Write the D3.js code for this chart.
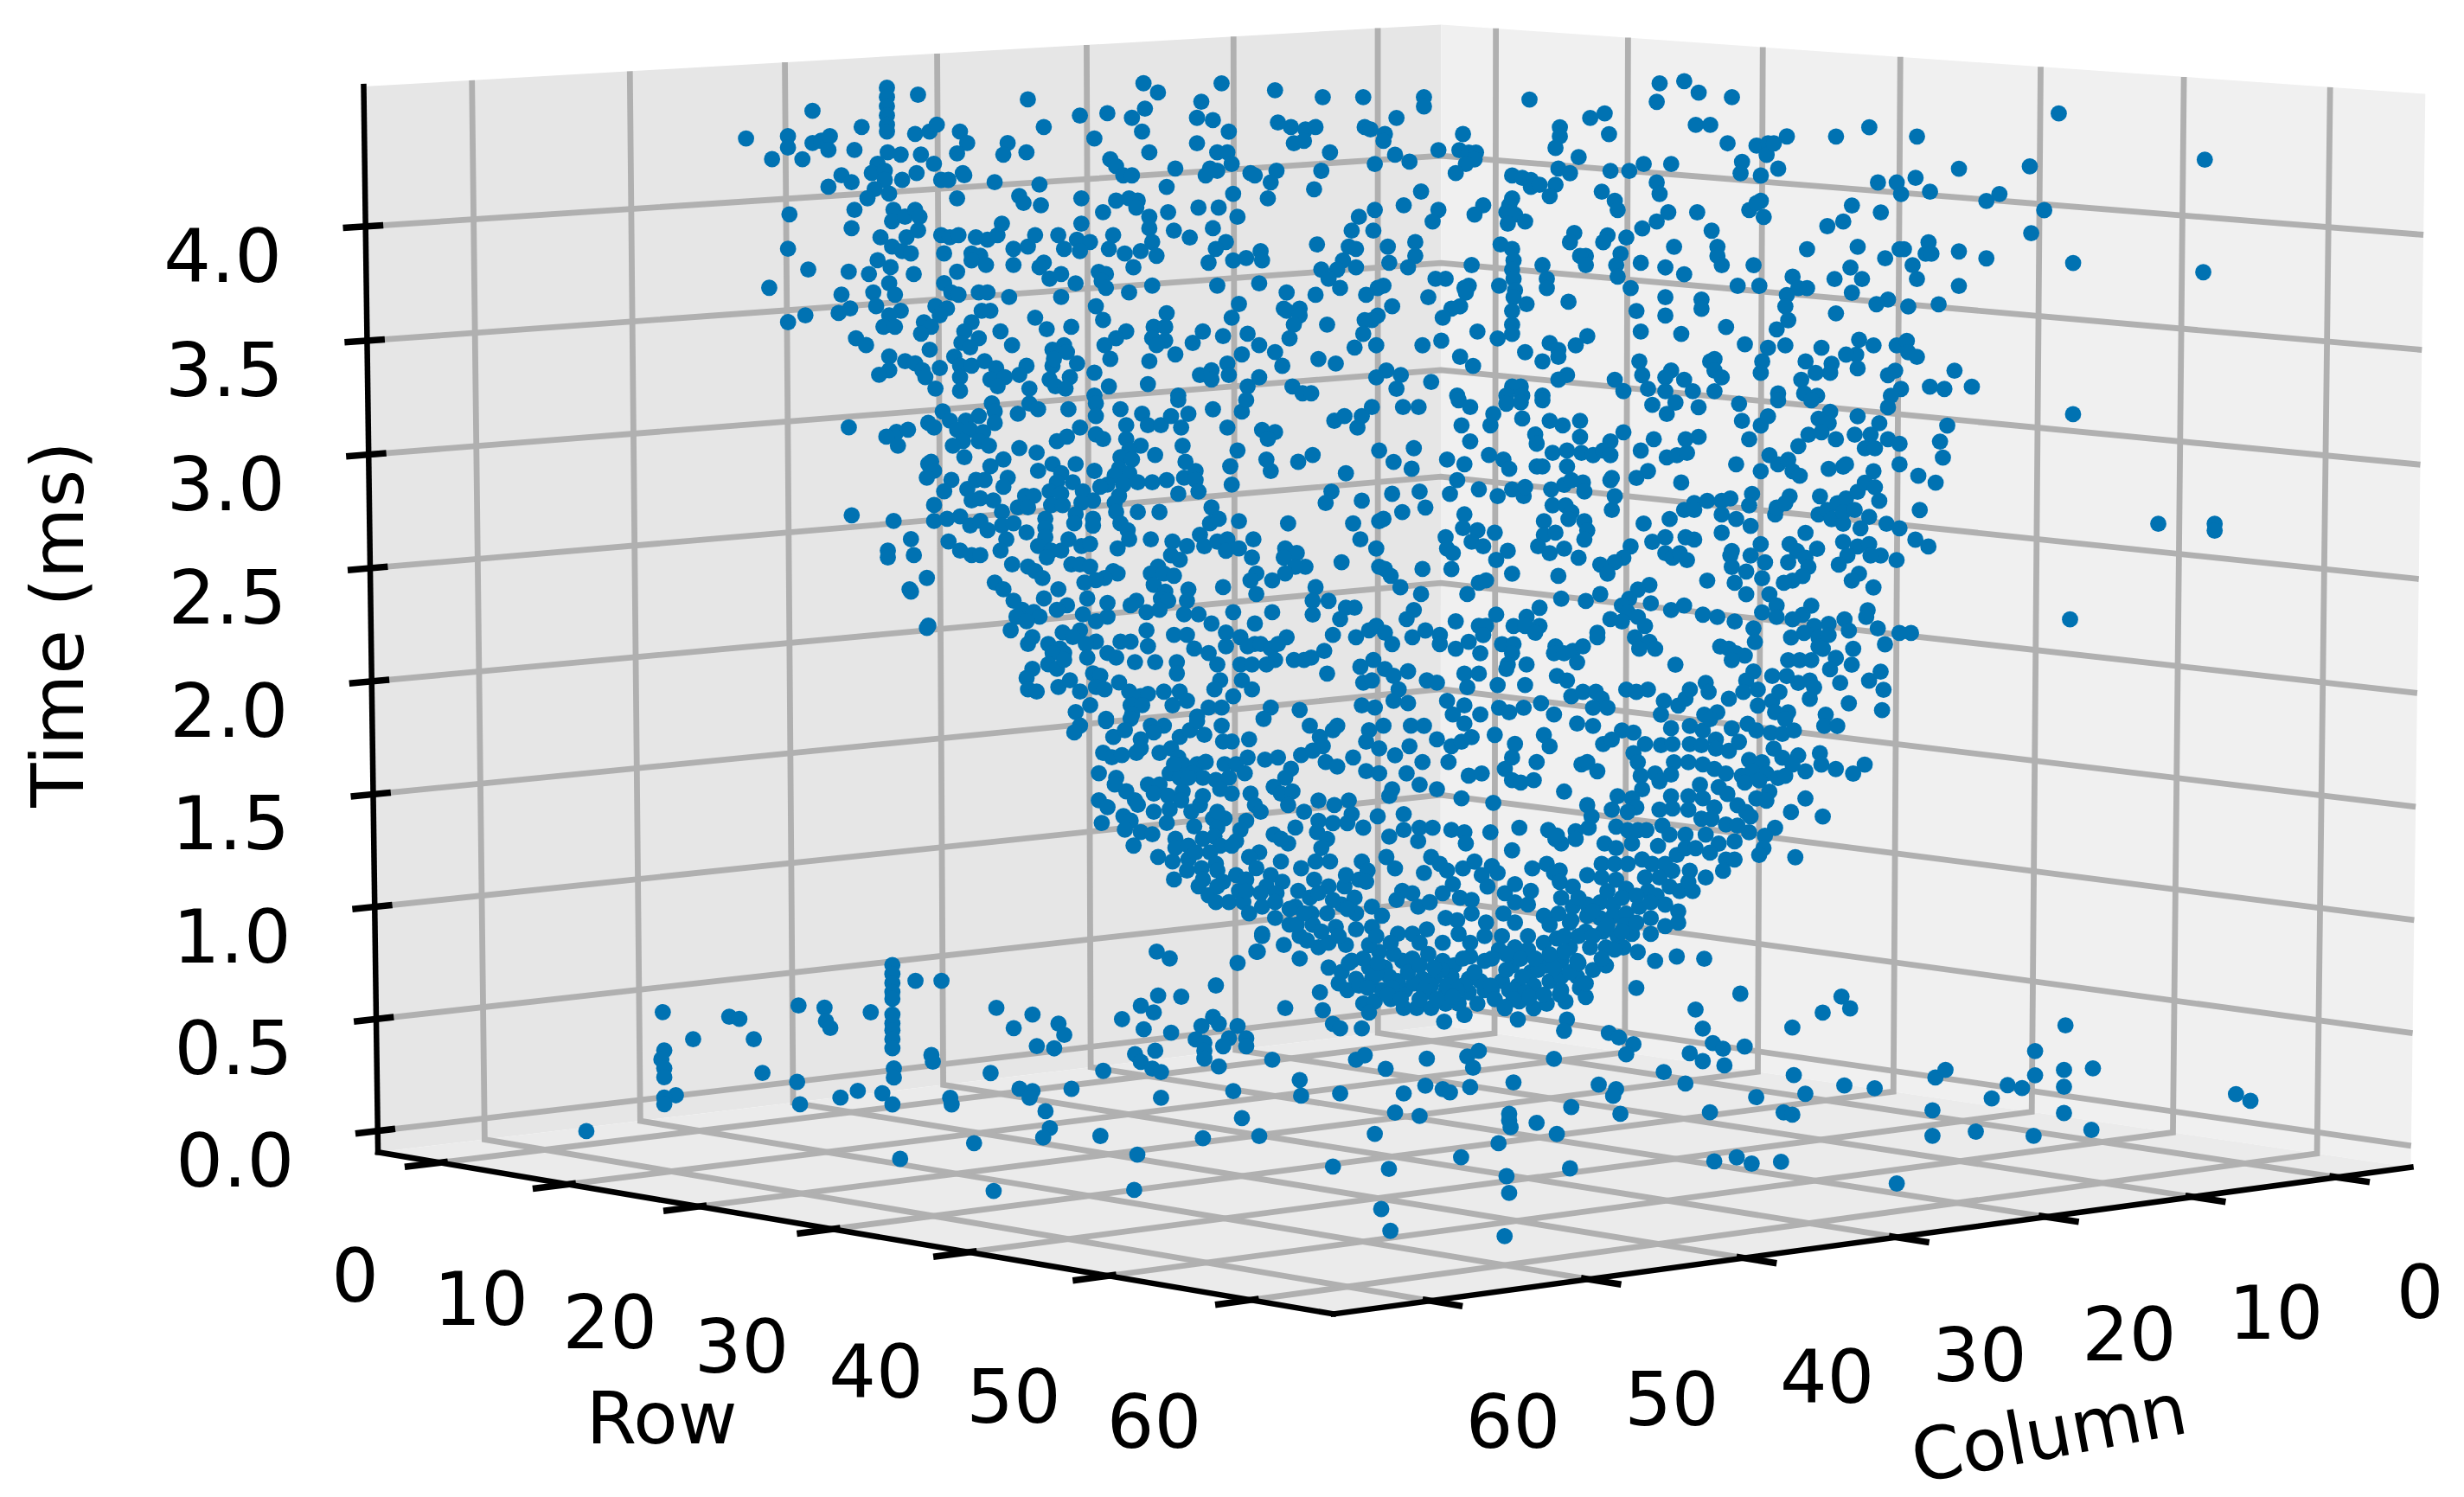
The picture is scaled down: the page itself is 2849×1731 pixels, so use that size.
<!DOCTYPE html>
<html><head><meta charset="utf-8">
<script src="https://cdnjs.cloudflare.com/ajax/libs/d3/7.8.5/d3.min.js"></script>
<style>html,body{margin:0;background:#fff}svg{display:block}text{font-family:"DejaVu Sans";fill:#000}</style>
</head><body>
<script>
// Axis ticks
const rowTicks=[0,10,20,30,40,50,60];
const columnTicks=[0,10,20,30,40,50,60];
const timeTicks=[0,0.5,1,1.5,2,2.5,3,3.5,4];
const rowLimits=[-4.9,65.7], columnLimits=[-5.2,66], timeLimits=[-0.095,4.61];
// A picture resolves two numbers per point: [column minus row, time in ms]
const pointsUpperLeft=[[44.6,4.40],[42.8,4.31],[41.7,4.41],[41.7,4.36],[40.7,4.31],[40,4.52],[40,4.38],[39.4,4.39],[38.8,4.41],[38.9,4.35],[36.6,4.45],[37.1,4.35],[34.85,4.62],[34.85,4.58],[34.85,4.54],[34.85,4.50],[34.85,4.46],[34.85,4.43],[32.7,4.59],[32.9,4.42],[31.9,4.43],[31.4,4.46],[29.8,4.43],[29.3,4.38],[30,4.335],[25.1,4.57],[24,4.45],[21.5,4.5],[19.6,4.51],[17.1,4.64],[16.1,4.6],[17,4.53],[17.9,4.49],[17.2,4.43],[20.5,4.40],[13.1,4.56],[11.7,4.64],[13.4,4.49],[12.3,4.48],[11.2,4.43],[13.4,4.38],[16.7,4.34],[26.5,4.38],[26.8,4.33],[25.2,4.34],
[34.8,4.34],[33.9,4.33],[32.5,4.33],[31.6,4.29],[35.5,4.29],[35.9,4.25],[35,4.26],[35,4.22],[33.8,4.22],[32.8,4.25],[31.1,4.22],[30.6,4.22],[29.6,4.25],[29.5,4.24],[38,4.24],[37.3,4.21],[38.9,4.19],[27.4,4.21],[24.3,4.2],[25.7,4.15],[25.4,4.12],[24.2,4.11],[19.4,4.31],[19,4.28],[18.5,4.24],[17.9,4.24],[14.9,4.27],[15.5,4.19],[12.5,4.27],[12,4.34],[11.3,4.34],[11,4.29],[12,4.26],[12.8,4.24],[9.7,4.25],[10.9,4.16],
[35.7,4.18],[36.2,4.14],[34.7,4.16],[30,4.14],[37.1,4.09],[37.3,4.01],[41.6,4.07],[41.7,3.92],[34.4,4.09],[34.5,4.04],[33.6,4.06],[32.9,4.09],[32.6,4.06],[32.7,4],[33.5,3.97],[35.3,3.97],[34.5,3.93],[33.8,3.91],[33.2,3.9],[31.1,3.98],[30.5,3.97],[29.9,3.98],[28.7,3.97],[27.9,3.96],[27.2,3.98],[26.9,4.03],[30.9,3.9],[29,3.9],[28.4,3.89],[29,3.87],[28,3.85],[26.1,3.92],[25.1,3.93],[24.6,3.98],[26.1,3.85],[24,3.86],[24.3,3.84],[23,3.98],[22.6,3.92],[21.4,4.03],[21.7,3.96],[20.8,3.95],[21.5,3.91],[21.4,4.14],[19.9,4.08],[19,4.13],[18.1,4.14],[17.5,4.13],[17.6,4.1],[16.7,4.06],[16.7,4.01],[15.4,4.08],[15,4],[13.3,4.1],[11.9,4.1],[12.3,4.01],[10.6,4.06],[13.9,3.97],[19.2,3.98],[19.5,3.92],[18.4,3.9],[17.3,3.91],[16.5,3.95],[16.2,3.89],[17.8,3.84],[11.4,3.95],[12.1,3.92],[12.6,3.86],[10.9,3.87],[10,3.88],
[40.3,3.83],[37.5,3.82],[43,3.75],[35.5,3.87],[34.6,3.84],[36.1,3.81],[34.7,3.77],[35.8,3.73],[34.3,3.72],[33,3.81],[30,3.82],[30.9,3.77],[30.4,3.73],[29.9,3.72],[28.5,3.73],[27.9,3.73],[26.4,3.71],[23.6,3.79],[22.8,3.81],[21.8,3.77],[22.8,3.71],[20.2,3.82],[19.7,3.81],[20,3.78],[19.7,3.75],[18.1,3.73],[16.5,3.76],[12,3.76],[38,3.72],[35.6,3.67],[37.4,3.66],[38.2,3.64],[40.5,3.63],[41.7,3.6],[37,3.53],[36.3,3.5],[33.9,3.65],[34.7,3.63],[35.1,3.58],[34.3,3.58],[31.5,3.67],[30.7,3.66],[31.2,3.63],[32.3,3.6],[31.8,3.58],[32.5,3.55],[28.3,3.65],[27.7,3.65],[29,3.6],[29.5,3.56],[28.5,3.53],[29.7,3.51],[29.1,3.49],[27,3.56],[26.2,3.5],[24.6,3.62],[23.8,3.57],[22.1,3.58],[20.4,3.67],[19.9,3.61],[15.5,3.64],[16.4,3.58],[15.6,3.58],[16.5,3.53],[15.6,3.52],[16.2,3.5],[18.3,3.56],[19,3.53],[19.8,3.5],[13,3.56],[13.7,3.51],[11.6,3.54],[10.5,3.68],[11,3.62],[9.9,3.55],[19.4,3.44],[14.9,3.46],[16.7,3.43],[10.3,3.46],[11.3,3.42],
[31.9,3.48],[30.2,3.45],[34.7,3.45],[34.7,3.39],[35.4,3.37],[33.6,3.43],[32.9,3.42],[32.4,3.39],[32.2,3.36],[31.2,3.4],[31.5,3.31],[29.8,3.41],[29.8,3.36],[29.8,3.30],[29,3.41],[28.1,3.43],[27.3,3.4],[27.7,3.35],[26.7,3.36],[27.2,3.32],[25.2,3.41],[25.7,3.37],[25,3.31],[23.4,3.41],[23.6,3.35],[23.2,3.32],[22.2,3.36],[22.5,3.31],[23.4,3.48],[23.3,3.44],[22.6,3.5],[22.4,3.47],[21.7,3.42],[20.5,3.38],[19.5,3.32],[16.8,3.33],[14.7,3.28],[13.2,3.37],[12.4,3.39],[12.4,3.35],[11.2,3.37],[9.9,3.32],[20.5,3.28]];
const pointsUpperMiddle=[[8,4.61],[4.7,4.58],[1.9,4.58],[-2.3,4.58],[-2.3,4.54],[-9.6,4.57],[-.4,4.49],[7.8,4.47],[6.9,4.45],[5.9,4.44],[5.2,4.45],[6.7,4.38],[6,4.39],[1.8,4.45],[1.4,4.44],[.4,4.42],[.5,4.39],[4.2,4.34],[-.3,4.33],[-3.3,4.35],[-5,4.42],[-4.75,4.35],[-5.4,4.34],[-5.9,4.34],[-5.8,4.31],[-5.2,4.29],[-4.5,4.25],[-1.3,4.3],[1.1,4.29],[-11.7,4.45],[-11.7,4.41],[-11.4,4.36],[-13.8,4.49],[-14.8,4.51],[-15.1,4.42],[-13,4.32],[-18.6,4.64],[-18.4,4.56],[-20.3,4.65],[-21.3,4.6],[-23.6,4.58],[-21.1,4.46],[-22.1,4.46],[-23.3,4.38],[-25.3,4.37],[-26.1,4.38],[-26,4.33],[-24.3,4.3],[-24.2,4.25],[-25.6,4.24],[-19.4,4.29],[-17.5,4.29],[-16.5,4.26],[-15.2,4.26],[-11.6,4.27],[-12.4,4.25],[-11.4,4.2],[-11,4.15],[-8.4,4.24],[-9.1,4.23],[-9.7,4.22],[-9.7,4.19],[-10.3,4.2],
[7.9,4.26],[8.3,4.21],[9.4,4.24],[8.5,4.14],[4.8,4.26],[5.3,4.18],[-2.1,4.17],[-.9,4.11],[-14.6,4.17],[-15.5,4.13],[-15.7,4.09],[-18.4,4.21],[-18.6,4.16],[1.1,4.09],[2.2,4.06],[2.7,4],[1.2,4],[-3.3,4.09],[-2.9,4.04],[-6.4,4.11],[-5.8,4.07],[-8.4,4.14],[-8.2,4.11],[-8,4.08],[-8.6,4.07],[-8.1,4.03],[-9.3,4.04],[-19.2,4.08],[-18.4,4.04],[-17.4,4.01],[-21.2,4.08],[-24.8,4.09],[-25.6,4.13],[-25.3,4.12],[-25.8,4.06],[-12.7,3.99],[-12.4,3.95],[-15,3.98],[-14.7,3.95],[-16.3,3.97],[-22.2,4],[-22.6,3.93],[-22.6,3.89],[-22.9,3.85],[-19.6,3.93],[5.1,3.94],[9,3.91],[8.9,3.87],[2.9,3.93],[2.4,3.92],[3.3,3.87],[2.4,3.84],[.2,3.93],[-1.7,3.95],[-1.7,3.89],[.1,3.86],[-1.2,3.84],[4.8,3.83],[3.7,3.83],[4.3,3.79],[-5.6,3.85],[-7.6,3.94],[-8.4,3.92],[-8.5,3.87],[-8.4,3.83],[-8.5,3.79],[-8.6,3.74],[-8.5,3.71],[-10.5,3.85],[-13.5,3.89],[-13.1,3.89],[-13.5,3.85],[-15.9,3.9],[-15.6,3.85],[-15.7,3.8],[-17.3,3.86],[-19,3.84],[-20.3,3.81],[-25.1,3.85],[-10.8,3.79],[-10.8,3.75],[-16.6,3.75],[-24,3.76],[-25.5,3.76],
[9.1,3.77],[7.2,3.73],[5.2,3.72],[3.5,3.75],[1.7,3.72],[.9,3.75],[.5,3.76],[-3.1,3.79],[-3.8,3.79],[-5.4,3.76],[-5.1,3.75],[-5.2,3.73],[-7.5,3.76],[-2.6,3.71],[-12.3,3.69],[-19,3.71],[-21.5,3.7],[-21.5,3.66],[-17,3.65],[-19,3.63],
[7.4,3.66],[7.2,3.65],[6.3,3.66],[6.3,3.63],[6.7,3.59],[7,3.53],[-.1,3.67],[.9,3.63],[1.3,3.61],[1.8,3.61],[1.9,3.55],[4.4,3.59],[-4.8,3.67],[-4.2,3.66],[-3.6,3.62],[-9.4,3.68],[-8.4,3.65],[-8.4,3.59],[-8.4,3.55],[-6,3.56],[-7.4,3.53],[-17.3,3.56],[-20.1,3.55],[-23.2,3.58],[9.1,3.5],[1,3.5],[2.5,3.49],[-2.2,3.5],[-3.5,3.52],[8,3.47],[7.5,3.41],[5,3.44],[3.8,3.42],[-4.8,3.45],[-5.7,3.41],[-9.3,3.47],[-11,3.51],[-11.6,3.48],[-11.6,3.45],[-10.5,3.43],[-12.8,3.5],[-13.6,3.54],[-24.5,3.505],[-26.1,3.49],[-17.2,3.43],[-17.4,3.37],[-25.7,3.43],[-25.6,3.38],[-22.1,3.43],[-22.4,3.44],[-22.4,3.39],[-22.9,3.36],[-19.4,3.39],[-19,3.36],[-20.3,3.35],[-15.5,3.35],[-17.8,3.31],[-16.1,3.3],[-19,3.3],[-20.9,3.3],[-22.4,3.3],[-12.2,3.37],[-11.6,3.35],[-8.4,3.32],[-9,3.32],[-8,3.28],[-9.1,3.28],[-10.5,3.28],[-4.6,3.28],[-2.8,3.34],[-.7,3.37],[.3,3.39],[1,3.36],[-.4,3.31],[6.8,3.32],[6.1,3.29],[5.5,3.29],[9.1,3.36]];
const pointsUpperRight=[[-27.4,4.41],[-26.5,4.38],[-26.8,4.27],[-30.8,4.41],[-33.1,4.45],[-36.4,4.41],[-46.2,4.51],[-56.3,4.31],[-39.3,4.27],[-44.2,4.28],[-33.7,4.21],[-35,4.21],[-36.3,4.23],[-35.3,4.16],[-37.3,4.17],[-41.2,4.13],[-42.1,4.16],[-45.2,4.09],[-31.9,4.11],[-33.9,4.08],[-31.3,4.04],[-30.2,4.02],[-44.3,3.99],[-28.8,3.92],[-32.3,3.93],[-35.2,3.92],[-35.5,3.92],[-37.2,3.95],[-37,3.9],[-37.4,3.9],[-39.3,3.91],[-41.2,3.88],[-34.2,3.88],[-47.2,3.86],[-56.2,3.82],[-36.1,3.85],[-31.8,3.84],[-36.4,3.79],[-39.3,3.76],[-30.7,3.79],[-32.6,3.79],[-27.8,3.8],[-28.8,3.75],[-28.2,3.75],[-27.4,3.72],[-31.9,3.73],[-34.4,3.70],[-33.6,3.68],[-35.8,3.67],[-37.9,3.68],[-30.8,3.64],[-27.3,3.67],[-27.5,3.61],[-26.7,3.57],[-27.3,3.5],[-29.8,3.49],[-32.4,3.525],[-33.4,3.5],[-35,3.5],[-35.7,3.52],[-35.8,3.47],[-36.4,3.45],[-32.2,3.46],[-31.5,3.46],[-28.7,3.43],[-32.3,3.40],[-30.5,3.42],[-30.4,3.38],[-29.4,3.38],[-28.4,3.35],[-39,3.39],[-34.9,3.39],[-34.4,3.37],[-40.2,3.32],[-37.3,3.32],[-38.3,3.31],[-35.3,3.31],[-34.6,3.28],[-26.8,3.29],[-28.6,3.29],[-29.5,3.28]];
const pointsOuterFlanks=[[37.5,3.14],[37.3,2.755],[34.8,2.6],[33,2.58],[33.3,2.43],[32,2.27],[34.2,3.12],[32,3.16],[32,2.98],[-47.2,3.2],[-53.1,2.72],[-57,2.72],[-57,2.69],[-47,2.3],[-36,2.24],[-38,3.08],[-36.5,2.93],[-38.2,3.01],[-37.7,2.9],[-36.6,2.78],[-37.2,2.62],[-36.3,2.65],[-38.5,3.15]];
const pointsMiddleLeft=[[34.9,3.10],[33.4,3.13],[34.1,3.06],[31,3.21],[31.6,3.14],[30.5,3.17],[29.4,3.17],[28.5,3.19],[27.6,3.245],[27.4,3.21],[27.4,3.16],[30,3.13],[29.1,3.13],[28.2,3.12],[29.6,3.08],[30.3,3.06],[28.5,3.08],[27.8,3.06],[29.5,3.01],[25.8,3.2],[25,3.245],[24.4,3.22],[22.3,3.22],[20.4,3.245],[20.4,3.19],[18.7,3.22],[17.2,3.2],[16.8,3.15],[15.9,3.15],[15.2,3.19],[14.5,3.14],[14,3.2],[12.3,3.22],[10.3,3.21],[10,3.26],[14.7,3.26],[21.5,3.14],[20.4,3.11],[19.9,3.09],[18.3,3.15],[18.3,3.09],[11.3,3.14],[8.9,3.13],[8,3.12],[8.5,3.09],[10.6,3.04],[3.9,3.17],[3.2,3.19],[2.3,3.14],[2,3.19],[1.3,3.23],[.8,3.04],[23.1,3.08],[22.4,3.1],[25.7,3.05],[24.5,3.03],[17.3,3.06],[16.3,3.02],[14.4,3.06],[14.2,2.99],[18.1,3.04],[18.7,3.01],[17.9,3],[18.8,2.96],[18.1,2.94],[19.1,2.93],[19.6,2.89],[20.1,2.88],[18.5,2.89],[18.8,2.84],[19.1,2.81],
[31.8,2.99],[31.6,2.95],[32.1,2.92],[30.4,2.91],[30.9,2.86],[27.7,2.97],[26.8,3],[28.7,2.91],[29.3,2.87],[28.1,2.91],[26.5,2.92],[26.8,2.88],[24.4,2.95],[23.4,2.98],[21.8,2.98],[20.5,2.95],[22.8,2.94],[23.1,2.9],[23.6,2.86],[22.8,2.85],[22,2.9],[21.3,2.86],[20.6,2.82],[17.5,2.9],[16.5,2.9],[15.5,2.91],[14.3,2.92],[13.5,2.95],[13.5,2.91],[14.7,2.85],[13.3,2.86],[11.1,2.97],[11,2.89],[8.6,3],[8.3,2.95],[6.4,2.99],[5.4,3.02],[3.1,2.94],[4.1,2.86],[4.5,2.81],[2,2.82],
[31.6,2.8],[29,2.82],[28.4,2.83],[27.5,2.82],[26.9,2.77],[25.3,2.84],[24.7,2.84],[25.8,2.79],[25.1,2.79],[23.5,2.8],[22.7,2.8],[21.4,2.81],[21.8,2.76],[21.9,2.72],[20.6,2.74],[20.6,2.71],[19,2.77],[18.7,2.72],[18.2,2.69],[18.1,2.65],[18.9,2.61],[17.5,2.77],[16,2.77],[12.4,2.79],[12.5,2.72],[11.9,2.74],[10.5,2.73],[34.4,2.73],[31.6,2.73],[30.7,2.74],[29.8,2.75],[29.1,2.71],[28.4,2.73],[27.9,2.69],[26.9,2.71],[26.1,2.72],[25.2,2.68],[23.9,2.74],[23.9,2.7],[23.9,2.66],[33.2,2.65],[34.8,2.57],[30.6,2.64],[29.8,2.6],[29,2.58],[28.4,2.58],[26.6,2.65],[27,2.6],[26.2,2.54],[24.4,2.62],[23.5,2.6],[22.8,2.6],[22.3,2.65],[21.4,2.62],[20.8,2.63],[16.6,2.65],[15.1,2.64],[14.1,2.62],[15.2,2.58],[14.6,2.56],[13.2,2.67],[12.9,2.62],[12,2.64],[11.3,2.65],[11.4,2.6],[10.5,2.61],[9.5,2.65],[9.6,2.57],[7.1,2.72],[7.3,2.61],[6.5,2.59],[7.4,2.57],[5.9,2.53],[6.6,2.53],[3.4,2.55],[2.6,2.72],[2.1,2.65],[.8,2.73],[1,2.61],[.8,2.53],
[23.8,2.57],[25.1,2.53],[24.6,2.51],[24.1,2.48],[22.1,2.54],[21.5,2.54],[20.8,2.53],[19.2,2.51],[18.9,2.5],[19.8,2.48],[20.4,2.47],[21.2,2.46],[32.1,2.48],[33.2,2.42],[27.4,2.46],[26.8,2.43],[23,2.43],[16.1,2.53],[16.6,2.5],[16.4,2.45],[15.7,2.5],[15,2.49],[11.6,2.44],[9.3,2.5],[9.7,2.47],[9.3,2.41],[8.2,2.47],[7.3,2.5],[5.2,2.44],[5.4,2.38],[5.4,2.32],[4.3,2.38],[3.1,2.35],[2.5,2.35],[3.5,2.3],[14,2.43],[14.1,2.38],[15.6,2.42],[15.9,2.39],[15.4,2.38],[17.6,2.38],[18,2.36],[16.9,2.33],[16,2.34],[14.3,2.32],[13.3,2.32],[12.4,2.28],[10.9,2.33],[8.2,2.33],[9.4,2.28],[19.6,2.37],[19.6,2.31],[20.4,2.29],[21.3,2.32],[22.4,2.36],[23.1,2.34],[24,2.39],[21,2.39],
[26.1,2.38],[25.5,2.34],[24.7,2.33],[24.3,2.31],[25.9,2.31],[25.2,2.29],[32.1,2.26],[26.3,2.25],[24.8,2.22],[25.1,2.19],[23.7,2.19],[22.7,2.24],[21.5,2.25],[22,2.22],[20.4,2.2],[21.1,2.19],[16.9,2.25],[15,2.23],[14.1,2.23],[11.4,2.24],[10.4,2.22],[9.4,2.19],[7.2,2.22],[4,2.23],[2.4,2.22],[1.5,2.25],[1,2.27],[22.9,2.17],[22.6,2.15],[23.4,2.15],[23.7,2.1],[23.1,2.08],[22.6,2.12],[21,2.13],[19.6,2.15],[19,2.13],[18.7,2.2],[18,2.2],[16.8,2.18],[17.7,2.11],[16.3,2.11],[14.8,2.11],[14.8,2.06],[13.6,2.17],[12.6,2.15],[12,2.1],[11.4,2.18],[9.9,2.18],[9,2.19],[8.3,2.17],[7.8,2.19],[8,2.12],[8.6,2.1],[10.4,2.1],[9.6,2.1],[6.7,2.12],[6,2.12],[5.5,2.13],[4.6,2.16],[4.4,2.06],[2.1,2.09],[1.2,2.12],[1.9,2.02],[1.3,2.03],
[24.8,2.08],[25.2,2.04],[25.1,1.99],[24.5,1.98],[23,2],[22.2,2.03],[21.5,1.98],[20.6,2.06],[20.1,2.05],[20.4,2],[19.8,1.99],[18.8,2.02],[20.8,1.92],[21.8,1.89],[18.1,1.98],[17.3,1.96],[16.8,1.97],[18,1.92],[17.2,1.92],[17.9,1.88],[15.7,1.98],[14.6,1.98],[15.1,1.92],[14.1,1.94],[11.8,2.03],[12.2,1.99],[10.3,2.03],[10.9,1.96],[9.6,1.99],[12.6,1.91],[11.7,1.91],[8.3,1.91],[6.3,1.9],[2,1.92],[1.1,1.91],[13.4,1.87],[19.7,1.86]];
const pointsMiddleRight=[[-.85,3.23],[-1.93,3.23],[-4.7,3.26],[-5.5,3.23],[-4.9,3.15],[-5.5,3.08],[-7.1,3.2],[-6.9,3.15],[-8,3.245],[-9,3.25],[-10.5,3.26],[-9.1,3.18],[-11,3.17],[-11.9,3.15],[-13.1,3.17],[-13.1,3.1],[-10,3.11],[-10.1,3.07],[-16.1,3.12],[-15.2,3.08],[-11.2,3.03],[-12.2,3.04],[-13.2,3.03],[-14,3.02],[-14.7,3.04],[-15.2,3.02],[-1.6,3.05],[-.2,2.99],[-1.45,2.96],[-3.9,3],[-5.1,2.98],[-6.8,3.02],[-7.8,3],[-8.2,2.96],[-10.1,2.97],[-10.5,2.97],[-12.2,2.97],[-18.2,3.09],[-17.3,3.04],[-20.4,3.09],[-21.3,3.1],[-19.1,3.01],[-19.8,3.02],[-20.5,3.03],[-18.1,3.24],[-19.1,3.2],[-19.7,3.25],[-21.3,3.23],[-24.1,3.245],[-24.3,3.17],[-25.6,3.15],[-26.1,3.19],[-24.8,3.09],[-26.8,3.26],[-29.1,3.26],[-30.4,3.21],[-29.6,3.18],[-30.3,3.16],[-28.9,3.11],[-29.8,3.12],[-30.8,3.09],[-32.3,3.19],[-33.8,3.16],[-34.4,3.23],[-32.1,3.11],[-33.2,3.11],[-34.4,3.09],[-32.8,3.05],[-33.5,3.05],[-35.2,3.07],[-28.2,3.06],[-26.2,3.02],[-26.8,2.98],[-27.5,3],[-27.8,2.95],[-28.3,2.93],[-23.9,2.98],[-25.6,2.95],[-30.3,2.96],[-31.3,2.97],[-31.5,2.98],[-33.4,2.95],[-35.2,2.98],[-17.8,2.95],[-17,2.92],[-20.1,2.9],[-15.2,2.91],[-15.3,2.92],[-4.6,2.91],[-4.1,2.85],[-6.1,2.87],[-7.4,2.84],[-8.4,2.87],[-9.2,2.84],[-9.3,2.88],[-11.1,2.87],[-12,2.89],[-12.5,2.91],[-13.3,2.9],[-13.4,2.86],[-15.5,2.84],[-15.3,2.78],[-.1,2.85],[-2,2.86],[-.8,2.77],[-2.4,2.79],[.5,2.74],[-11.2,2.8],[-12.1,2.8],[-12.5,2.77],[-12.3,2.74],[-13.4,2.73],[-13.6,2.69],[-13.4,2.65],[-10.6,2.73],[-5.1,2.76],[-5,2.7],[-6,2.69],[-7.2,2.68],[-3.8,2.66],[-3.9,2.61],[-4.3,2.59],[-5.6,2.64],[-6.4,2.62],[-8.1,2.6],[-7.3,2.56],[-10.6,2.67],[-11.4,2.68],[-10.2,2.62],[-11,2.59],[-12,2.61],[-13,2.57],[-17.5,2.72],[-19.3,2.74],[-20.3,2.78],[-21,2.81],[-21,2.78],[-21.9,2.82],[-22.9,2.82],[-23.5,2.83],[-22.9,2.76],[-25,2.85],[-24.8,2.8],[-23.9,2.74],[-24.9,2.71],[-22.9,2.68],[-26.6,2.76],[-26.7,2.79],[-27.6,2.84],[-27.3,2.81],[-29.7,2.84],[-29.6,2.76],[-30.2,2.78],[-30.9,2.81],[-31.5,2.83],[-30.5,2.74],[-31.3,2.72],[-31.3,2.77],[-32.1,2.78],[-32.3,2.86],[-32.8,2.9],[-33.5,2.88],[-33.8,2.82],[-33.1,2.75],[-32.5,2.7],[-34.3,2.72],[-35.2,2.7],[-28.7,2.68],[-27.6,2.63],[-28.1,2.6],[-29.5,2.61],[-28.7,2.57],[-27.5,2.55],[-28.9,2.53],[-28.5,2.49],[-27.8,2.47],[-27.2,2.46],[-31.3,2.64],[-32.3,2.62],[-33.1,2.63],[-33.9,2.58],[-33.2,2.58],[-31.6,2.58],[-31,2.54],[-32.4,2.5],[-31.9,2.47],[-35,2.56],[-33.4,2.44],
[-18.1,2.64],[-19,2.66],[-20.4,2.66],[-21,2.65],[-19,2.59],[-19.5,2.57],[-20,2.59],[-20.5,2.56],[-16.6,2.62],[-16.1,2.57],[-15.5,2.55],[-14.5,2.54],[-15,2.5],[-23.6,2.6],[-23.5,2.58],[-23.6,2.53],[-24.6,2.51],[-24.9,2.58],[-25.6,2.63],[-25.9,2.55],[-25.7,2.48],[-21.9,2.47],[-23.8,2.46],[-24.6,2.41],[-2.2,2.52],[-4.2,2.52],[-8.4,2.5],[-11.6,2.49],[.4,2.52],[0,2.49],[-.67,2.44],[-2.1,2.41],[-6.1,2.46],[-6.6,2.47],[-5.3,2.41],[-11.8,2.39],[-13.5,2.38],[-14.5,2.41],[-10.3,2.35],[-7.3,2.32],[-1.6,2.34],[-1.1,2.3],[-4.5,2.29],[-6.1,2.27],[-6.6,2.27],[-6.4,2.23],[-8.5,2.27],[-9.4,2.31],[-9.3,2.27],[-10.3,2.27],[-10,2.24],[-1.5,2.22],[-2.4,2.25],[-3.4,2.23],[-3.4,2.19],[-4.5,2.17],[-5.4,2.2],[.4,2.24],[-.1,2.19],[-6.2,2.15],[-7.7,2.19],[-8.5,2.19],[-8.4,2.15],[-8.1,2.1],[-8,2.08],[-9.4,2.1],
[-17.9,2.45],[-17.1,2.43],[-16.5,2.39],[-16,2.36],[-18,2.37],[-16.4,2.33],[-17.1,2.31],[-17.6,2.27],[-15.2,2.3],[-16,2.29],[-14.3,2.24],[-14.3,2.22],[-16.9,2.22],[-17.9,2.2],[-17.2,2.17],[-18.3,2.17],[-19.4,2.34],[-20.3,2.36],[-21.6,2.32],[-22.6,2.31],[-23.8,2.29],[-26.2,2.41],[-26.7,2.36],[-26.7,2.31],[-25.7,2.33],[-25.1,2.26],[-25.2,2.2],[-29.1,2.36],[-28.5,2.32],[-27.8,2.3],[-30.3,2.28],[-31.4,2.3],[-31.7,2.25],[-33,2.34],[-32.9,2.31],[-33.7,2.26],[-34.2,2.19],[-35.2,2.24],[-29.3,2.27],[-27.7,2.22],[-28.6,2.24],[-29.6,2.22],[-30.3,2.23],[-29.6,2.18],[-29.9,2.17],[-32,2.17],[-31.9,2.1],[-30.8,2.13],[-30.4,2.08],
[-11.4,2.18],[-11.3,2.15],[-12,2.15],[-12.6,2.16],[-13.3,2.18],[-12.9,2.11],[-19.7,2.1],[-22.8,2.18],[-23.4,2.17],[-23.9,2.15],[-24.5,2.14],[-23.6,2.12],[-27.5,2.12],[-28.3,2.12],[-29.1,2.12],[-25.1,2.07],[-24.6,2.03],[-25.4,1.99],[-26.4,2.05],[-27.4,2.05],[-28.2,2.02],[-29,2.03],[-29.3,2],[-29,1.95],[-31.1,2.02],[-33.1,2.03],[-33.9,2.07],[-34.1,1.99],[-31.7,1.93],[-34,1.9],[-30.1,1.88],[.4,2.08],[-1.2,2.07],[-.2,2.05],[-2.5,2.03],[-3.2,2.02],[-5.1,2.06],[-6.1,2.06],[-5.3,2],[-7.4,2.01],[-9.3,2.01],[-11.5,2.05],[-12.2,2.03],[-.55,1.99],[-1.2,1.93],[-.2,1.94],[-3.9,1.94],[-5.1,1.92],[-7.5,1.91],[-8.2,1.89],[-9.2,1.91],[-10.4,1.93],[-4.3,1.88],[-6.2,1.88],[-11.3,1.88],
[-12.5,1.96],[-13.3,1.98],[-14.2,1.98],[-14.6,1.95],[-14,1.91],[-15,1.91],[-16.3,1.99],[-17,1.98],[-17.8,1.99],[-18.9,1.94],[-19.9,1.92],[-20.4,1.95],[-20.7,1.99],[-21.8,2.02],[-22,1.98],[-23.4,1.95],[-24.4,1.98],[-18.7,1.88],[-21.7,1.88],[-22.6,1.89],[-25.4,1.92],[-26.4,1.94],[-26.9,1.98],[-26.6,1.89],[-27.5,1.89]];
const pointsLowerLeft=[[21.5,1.83],[21.9,1.8],[19.7,1.85],[18,1.86],[19.2,1.78],[18.4,1.81],[16.6,1.83],[15.7,1.83],[16.4,1.8],[17.3,1.77],[17.3,1.73],[17.6,1.71],[19.9,1.71],[19.3,1.69],[18.6,1.7],[14.6,1.78],[13.9,1.81],[13.4,1.85],[12.9,1.79],[11.7,1.83],[11,1.76],[11.6,1.76],[9.8,1.77],[8.8,1.86],[5.6,1.83],[3.7,1.83],[4,1.81],[4.9,1.78],[4.7,1.74],[.5,1.83],[1.5,1.81],[1.7,1.76],[-1.4,1.83],[-2.3,1.83],[-5.1,1.84],[.8,1.73],[-.3,1.7],[-1.3,1.74],[-3.2,1.77],[-4.2,1.74],[-4.9,1.76],[-5.6,1.78],[-7.2,1.79],[-8.6,1.75],[-10.6,1.79],[-11,1.74],
[16,1.71],[15.2,1.73],[14.7,1.69],[15.3,1.62],[14.4,1.66],[13.4,1.66],[12.8,1.67],[14.6,1.6],[13.7,1.62],[13,1.6],[12.1,1.59],[11.5,1.66],[10.7,1.66],[9.9,1.69],[10.1,1.62],[11.2,1.6],[8.7,1.68],[7.8,1.69],[6.2,1.7],[5.4,1.72],[4.5,1.67],[3.7,1.65],[2.6,1.69],[6.9,1.64],[7.3,1.6],[1.7,1.63],[.8,1.62],[-1.1,1.62],[-2.2,1.67],[-4,1.67],[-2,1.57],[-3.2,1.55],[-5.4,1.61],[-6.3,1.62],[-7.9,1.64],[-8.4,1.59],[-9,1.58],[-9.9,1.59],[-8.4,1.69],[-10.1,1.67],[-.1,1.55],[.1,1.52],[-4.9,1.51],[-7.1,1.49],
[20.2,1.62],[19,1.6],[19.1,1.57],[18.3,1.54],[17.7,1.5],[17.5,1.48],[16.8,1.57],[16,1.57],[16.4,1.53],[16.4,1.45],[15.4,1.52],[14.4,1.54],[14.5,1.5],[13.2,1.48],[13.8,1.45],[15.3,1.46],[15.5,1.4],[11.8,1.55],[11,1.53],[9.7,1.53],[9.4,1.48],[9,1.45],[8.1,1.56],[7.6,1.53],[6.8,1.54],[7.1,1.48],[5,1.5],[3.9,1.48],[2.9,1.5],[6,1.45],[2.7,1.44],[3,1.4],[5,1.41],[4,1.4],[5.1,1.36],[6.6,1.38],[4.4,1.33],[4.8,1.29],[8.1,1.35],[7.1,1.31],[7.6,1.33],[1.9,1.38],[.9,1.43],[-.9,1.44],[-.9,1.37],[.1,1.34],[-1.9,1.32],[-2,1.38],[-2.9,1.38],[-4.2,1.37],[-5.1,1.36],[-5.2,1.31],[-6.9,1.36],[-8.9,1.38],[-8.4,1.28],[-10.9,1.37],[-11.4,1.33],
[20.2,1.5],[19.6,1.47],[20,1.4],[18.5,1.43],[18,1.41],[18.4,1.37],[17.3,1.36],[16.5,1.35],[17.8,1.3],[13.6,1.385],[12.3,1.42],[11.5,1.42],[12,1.38],[10,1.41],[10.4,1.37],[10.7,1.32],[14.9,1.33],[14.9,1.29],[16.1,1.25],[15.1,1.23],[14,1.3],[13,1.33],[12.2,1.34],[11.8,1.3],[12.5,1.27],[14,1.24],[14.1,1.19],[15,1.15],[13.1,1.2],[12.1,1.22],[12,1.19],[13.3,1.12],[11.6,1.14],[10.7,1.17],[10,1.15],[10.5,1.1],[12.6,1.08],[12.1,1.05],[11.2,1.05],[10.2,1.05],
[9.1,1.27],[9.8,1.25],[9.3,1.2],[7.6,1.23],[8.3,1.17],[7.5,1.14],[8.6,1.12],[7.9,1.09],[6.2,1.2],[5.2,1.23],[4.2,1.23],[5.3,1.15],[4.3,1.12],[3.2,1.12],[3.1,1.17],[2,1.23],[1.6,1.19],[2.2,1.15],[1.7,1.14],[6.4,1.1],[5.6,1.07],[.3,1.25],[-.3,1.2],[-2.3,1.18],[-2.8,1.25],[-3.4,1.22],[-3.9,1.19],[-4.3,1.13],[-3.6,1.09],[-5,1.2],[-5.8,1.23],[-7,1.21],[-7.4,1.18],[-6.3,1.17],[-6.7,1.12],[-7.9,1.09],[-8.6,1.13],[-9.7,1.1],[-9.8,1.2],[-10.8,1.22],[-11.3,1.18],
[-.8,1.1],[-1.5,1.09],[-.4,1.06],[-1.9,1.03],[-2.7,1.05],[1.3,1.03],[-4.8,1.07],[-5.6,1.06],[-5.6,1],[-3.8,.98],[-4.6,.97],[-6.6,.96],[-8.6,1.05],[-9.5,1.04],[-7.8,1],[-8.6,.96],[-10.6,.99],[9.8,1],[8.9,1.03],[8,.98],[6.6,1.03],[5.5,1],[8.9,.91],[9.2,.83],
[7,.95],[7.4,.86],[6.3,.9],[5.4,.95],[6.3,.8],[5,.85],[4.4,1],[3.4,1.04],[2.4,1],[3.8,.94],[2.4,.93],[4.3,.87],[3.1,.86],[.6,.99],[1.3,.94],[-.5,.91],[-1.5,.91],[-2.5,.93],[.8,.83],[1.5,.86],[-3.6,.87],[-5.5,.87],[-5.5,.81],[-4.7,.91],[-7.7,.9],[-7.5,.84],[-9.5,.9],[-8.6,.85],[-10.6,.87],[-9.5,.84],[-10.8,.77],
[4.3,.76],[2.7,.79],[1.5,.76],[.4,.76],[-.8,.79],[-1.5,.8],[-2.6,.82],[-3.6,.79],[-4.4,.77],[-6.5,.79],[-8.4,.77],[-9.7,.74],[3.6,.69],[3,.66],[2.4,.71],[1.3,.71],[.1,.72],[-1,.66],[-2.2,.71],[-3.1,.72],[-4.2,.72],[-5.4,.71],[-6.5,.66],[-7.7,.7],[-8.8,.68],[-9.9,.68],[-11,.7],[1.9,.6],[1.1,.61],[0,.62],[-.9,.58],[-1.8,.58],[-2.8,.58],[-3.8,.6],[-4.7,.6],[-5.1,.55],[1.5,.56],[-7.9,.58],[-8.9,.61],[-9.9,.58],[-10.8,.6],[-2.4,.65],[-3.8,.65],[-5.4,.65],[.6,.66],[-.5,.7],[-1.6,.69],[-2.8,.68],[-3.9,.68],[-5,.68],[-6.2,.7],[-7,.66],[-8.2,.66],[-9.3,.65]];
const pointsLowerRight=[[-12.9,1.84],[-14,1.83],[-16,1.81],[-16.8,1.80],[-14.7,1.75],[-15.3,1.77],[-17.6,1.75],[-18.7,1.745],[-19.5,1.75],[-19.4,1.82],[-20.7,1.83],[-20.7,1.75],[-21.5,1.745],[-21.6,1.81],[-22.5,1.77],[-22.5,1.73],[-23.4,1.72],[-24.1,1.76],[-23.6,1.82],[-22.1,1.86],[-24.7,1.84],[-25.3,1.81],[-26.3,1.8],[-27.1,1.795],[-27.9,1.81],[-27.3,1.86],[-30,1.83],[-30.9,1.83],[-16.8,1.71],[-17.1,1.67],[-13.2,1.66],[-13.6,1.67],[-14.3,1.63],[-12,1.54],[-26.5,1.73],[-27.1,1.69],[-28.2,1.7],[-29.7,1.71],[-29.8,1.66],[-30.8,1.64],[-32.8,1.66],[-32,1.62],[-28.7,1.63],[-27.8,1.66],[-24.8,1.68],[-25.7,1.67],[-19.6,1.67],[-20.6,1.67],[-21.6,1.66],[-22.4,1.64],[-23.2,1.62],[-24.3,1.61],[-25,1.63],[-26,1.62],[-26.8,1.6],[-27.3,1.61],[-19.4,1.615],[-18.3,1.62],[-18.6,1.585],[-17.3,1.61],[-17.4,1.55],[-24.5,1.58],[-25.5,1.59],[-26.2,1.54],[-25.3,1.51],[-26,1.5],[-28.7,1.51],[-27.7,1.45],[-29.9,1.43],
[-21.4,1.57],[-22.7,1.56],[-23.3,1.53],[-15.7,1.52],[-16.7,1.51],[-17,1.47],[-15.3,1.46],[-16.4,1.45],[-19.4,1.52],[-20.6,1.52],[-18.6,1.46],[-19.5,1.465],[-20.6,1.46],[-21.6,1.51],[-22.4,1.47],[-21.5,1.42],[-22.2,1.42],[-24,1.48],[-24.6,1.45],[-23.2,1.395],[-24,1.39],[-24.9,1.43],[-24.8,1.36],[-23.8,1.32],[-26.6,1.38],[-25.9,1.345],[-25.8,1.29],[-25.5,1.26],[-28,1.25],
[-13.6,1.48],[-13.9,1.43],[-13.7,1.38],[-12.8,1.365],[-12.8,1.33],[-11.8,1.31],[-11.5,1.345],[-15.6,1.385],[-16.4,1.37],[-17.1,1.37],[-17.7,1.37],[-18.8,1.39],[-19.3,1.35],[-14.8,1.31],[-15.6,1.29],[-16.7,1.31],[-18.5,1.3],[-20.4,1.35],[-21.8,1.35],[-22.7,1.31],[-19.8,1.26],[-20.4,1.29],[-21.1,1.29],[-22.1,1.27],[-23.2,1.24],[-23.8,1.24],[-23,1.19],[-21.8,1.16],[-20.7,1.19],
[-14.6,1.22],[-15.5,1.22],[-16.4,1.22],[-17.4,1.24],[-18.1,1.22],[-19,1.22],[-13.6,1.17],[-14.6,1.16],[-15.6,1.15],[-16.3,1.11],[-17.6,1.16],[-18.6,1.16],[-19.5,1.19],[-17.8,1.1],[-18.4,1.08],[-19.3,1.12],[-20,1.1],[-20.9,1.1],[-20.6,1.14],[-11.7,1.19],[-11.7,1.14],[-12.6,1.12],[-11.8,1.07],[-12.6,1.03],[-11.6,1],[-13.6,1.04],[-14.5,1.05],[-15.4,1.04],[-13.6,.99],[-12.4,.96],[-14.5,.98],[-15.4,.99],[-16.3,1],[-17.2,1.03],[-16.2,.95],[-18,.98],[-19,1.04],[-19.9,1.01],[-19.9,.96],[-19,.945],[-18,.91],[-13.5,.92],[-14.7,.92],[-15.7,.9],[-16.7,.91],[-12.4,.85],[-13.8,.85],[-14.9,.85],[-16.1,.85],[-17.1,.83],[-11.5,.89],
[-11.8,.79],[-12.9,.79],[-14,.75],[-14.9,.77],[-11.8,.72],[-12.9,.72],[-13.1,.67],[-11.8,.66],[-13.5,.63],[-12.1,.61]];
const pointsDenseBand=[[3.4,.74],[2.2,.68],[1,.73],[-.1,.67],[-1.2,.74],[-2.3,.66],[-3.5,.75],[-4.6,.66],[-5.8,.74],[-6.9,.68],[-8,.75],[-9.1,.72],[-10.2,.75],[-11.3,.76],[-12.4,.74],[-13.5,.69],[-14.6,.8],[-15.5,.84],[-13,.78],[-12,.83],[1.6,.67],[.2,.64],[-.7,.62],[-2,.62],[-3.2,.62],[-4.3,.63],[-6,.6],[-7.2,.62],[-8.5,.62],[-9.6,.63],[-10.6,.64],[-11.7,.64],[2.9,.78],[1.9,.8],[.9,.78],[-.2,.82],[-2,.77],[-3,.76],[-5,.8],[-7,.8],[-8,.82],[-9,.8],[-10,.8],[-11,.82],[-12,.9],[-13,.9],[-14,.9],[-15,.95],[-16,.92],[-17,.96],[-14,1.01],[-13,1.07],[-15,1.1],[-16,1.07],[-17,1.08],[-18,1.05],[-12.5,.97],[-11,.95],[3.6,.9],[4.8,.92],[5.8,.88],[6.5,.95],[1,.9],[0,.87],[-2,.87],[-6.5,.9],[2.5,1.07],[3,1.02],[4,1.06],[5,1.09],[6,1],[7,1.02],[8,1.05],[9,1.09],[10,1.1],[12,1.12],[13,1.15],[13.5,1.27],[11,1.3],[12,1.45],[13,1.52],[14,1.6],[15,1.66]];
const pointsNearFloor=[[55.7,.03],[50.4,.56],[45.8,.54],[45.1,.53],[48.3,.44],[44.1,.44],[50.3,.39],[50.5,.35],[50.3,.31],[50.3,.27],[43.5,.29],[49.5,.19],[50.3,.18],[50.3,.15],[41,.59],[39.2,.58],[39.1,.52],[38.8,.49],[36,.56],[34.5,.77],[34.5,.73],[34.5,.69],[34.5,.65],[34.5,.62],[32.9,.70],[31.1,.70],[34.5,.55],[34.5,.51],[34.5,.48],[34.5,.44],[34.5,.40],[41.1,.25],[40.9,.15],[38.1,.18],[36.9,.21],[35.2,.20],[34.5,.15],[34.4,.31],[34.4,.27],[31.8,.37],[31.7,.34],[30.5,.18],[30.4,.15],[27.7,.29],[27.3,.58],[24.8,.55],[26.1,.49],[23,.51],[22.6,.46],[24.5,.41],[23.3,.40],[25.7,.22],[24.8,.21],[25,.18],[22.1,.22],[23.9,.12],[23.6,.045],[20.1,.01],[13,.0],[9.1,.01],[10.3,.09],[10.9,.21],[15.9,.18],[19.9,.30],[17.7,.375],[17.3,.34],[16.3,.39],[16.5,.31],[15.9,.295],[18.6,.53],[17.3,.59],[16.4,.56],[16.1,.635],[14.5,.63],[17.1,.485],[15.2,.47],[12.1,.68],[16.2,.83],[15.3,.80],[10.6,.78],[12.3,.54],[11.9,.51],[13.1,.50],[10.6,.50],[13.5,.44],[12.9,.425],[12.9,.39],[12.9,.355],[11.2,.445],[11.6,.41],[11.9,.32],[10,.445],[10,.41],[8.2,.35],[6.3,.26],[6.2,.19],[3.5,.20],[7.3,.58],[4.7,.57],[4.9,.65],[9.3,.83],[8.9,.90],[4,.51],[3.5,.49],[2,.49],[2.4,.35],[1.8,.37],[.35,.31],[-.9,.20],[-.3,.115],[-2,.10],[1.1,.02],[-2.4,.235],
[-3.7,.52],[-5.1,.55],[-7.9,.585],[-8.8,.53],[-12.2,.53],[-12,.48],[-15.1,.47],[-15.8,.45],[-16.8,.42],[-16.3,.375],[-11.3,.355],[-6.1,.39],[-5.3,.365],[-5.7,.315],[-2.5,.355],[-3.6,.22],[-4.1,.205],[-5.5,.229],[-8.5,.25],[-14.4,.24],[-15.6,.22],[-15.4,.19],[-12.5,.14],[-15.9,.11],[-8.2,.11],[-8.2,.08],[-8.3,.05],[-10.1,.07],[-11.5,.02],[-17,.67],[-18.3,.79],[-19.8,.81],[-21.7,.80],[-21.1,.574],[-21.6,.49],[-24.2,.645],[-22.3,.425],[-23,.40],[-24.5,.41],[-20.7,.38],[-21.6,.345],[-23.1,.326],[-18.9,.296],[-20.4,.245],[-25.3,.185],[-22.1,.117],[-27.2,.117],[-27.8,.107],[-27.9,.283],[-28.7,.2],[-31.4,.237],[-33.5,.225],[-27.8,.495],[-29.9,.561],[-31.2,.632],[-31.8,.58],[-37.5,.127],[-37.5,.013],[-40.5,.032],[-44.5,.013],[-48.5,.04],[-37.7,.273],[-38.4,.307],[-41.6,.18],[-42.7,.239],[-43.7,.226],[-44.6,.391],[-44.6,.283],[-46.7,.505],[-46.6,.307],[-46.6,.232],[-46.6,.115],[-48.6,.314],[-58.5,.2],[-59.5,.17]];
// Points lying on the zero-time floor: [column minus row, row plus column minus 60.8]
const pointsOnFloor=[[24.2,1],[28.8,4],[33.3,12],[25.7,27],[16.2,26],[17.1,9],[3.3,14],[-.6,15],[-1,34],[-2.1,44],[-7.6,2],[-5.3,9],[-8.8,18],[-13,14],[-9.3,26],[-9.8,46],[-22.8,10],[-24.3,8],[-25.4,11],[-27.4,10],[-35.5,20]];

const pointRadius=9.4, pointColor="#0072b2";
const width=2849,height=1731;
const colNorm=d3.scaleLinear().domain(columnLimits).range([0,1]);
const rowNorm=d3.scaleLinear().domain(rowLimits).range([0,1]);
const timeNorm=d3.scaleLinear().domain(timeLimits).range([0,1]);
const screenX=d3.scaleLinear().domain([-1,1]).range([1608-1676,1608+1676]);
const screenY=d3.scaleLinear().domain([-1,1]).range([727+1249,727-1249]);
const elev=8.1*Math.PI/180, azim=48*Math.PI/180, dist=10;
const se=Math.sin(elev),ce=Math.cos(elev),sa=Math.sin(azim),ca=Math.cos(azim);
function project(col,row,time){
  const x=colNorm(col)-.5,y=rowNorm(row)-.5,z=timeNorm(time)-.5;
  const depth=ce*ca*x+ce*sa*y+se*z;
  const p=dist/(dist-depth);
  return [screenX(p*(-sa*x+ca*y)),screenY(p*(-se*ca*x-se*sa*y+ce*z))];
}
const [colMin,colMax]=columnLimits,[rowMin,rowMax]=rowLimits,[tMin,tMax]=timeLimits;
const svg=d3.select("body").append("svg").attr("width",width).attr("height",height);
const poly=c=>c.map(q=>project(...q).join(",")).join(" ");
const pane=(c,f)=>svg.append("polygon").attr("points",poly(c)).attr("fill",f);
pane([[colMax,rowMin,tMin],[colMin,rowMin,tMin],[colMin,rowMin,tMax],[colMax,rowMin,tMax]],"#e6e6e6");
pane([[colMin,rowMin,tMin],[colMin,rowMax,tMin],[colMin,rowMax,tMax],[colMin,rowMin,tMax]],"#f0f0f0");
pane([[colMax,rowMin,tMin],[colMin,rowMin,tMin],[colMin,rowMax,tMin],[colMax,rowMax,tMin]],"#ebebeb");
const gridColor="#b0b0b0",gridWidth=6.8;
const wallShiftRow=-.7, wallShiftCol=-.75;
const line=d3.line();
const grid=pts=>svg.append("path").attr("d",line(pts.map(q=>project(...q)))).attr("fill","none").attr("stroke",gridColor).attr("stroke-width",gridWidth).attr("stroke-linejoin","miter");
rowTicks.forEach(r=>grid([[colMax,r,tMin],[colMin,r+wallShiftRow,tMin],[colMin,r+wallShiftRow,tMax]]));
columnTicks.forEach(c=>grid([[c,rowMax,tMin],[c+wallShiftCol,rowMin,tMin],[c+wallShiftCol,rowMin,tMax]]));
timeTicks.forEach(t=>grid([[colMax,rowMin,t],[colMin,rowMin,t],[colMin,rowMax,t]]));
const allPlane=[pointsUpperLeft,pointsUpperMiddle,pointsUpperRight,pointsOuterFlanks,pointsMiddleLeft,pointsMiddleRight,pointsLowerLeft,pointsLowerRight,pointsDenseBand,pointsNearFloor].flat();
const lateral=t=>1.005-.0028*t;
const cloud=allPlane.map(([o,t])=>{const s=.052*o,w=o*lateral(t);return project(30.4+(s+w)/2,30.4+(s-w)/2,t);}).concat(pointsOnFloor.map(([o,d])=>project(30.4+(d+o)/2,30.4+(d-o)/2,0)));
svg.append("g").attr("fill",pointColor).selectAll("circle").data(cloud).join("circle").attr("cx",d=>d[0]).attr("cy",d=>d[1]).attr("r",pointRadius);
const black=(a,b,w)=>{const p=project(...a),q=project(...b);svg.append("line").attr("x1",p[0]).attr("y1",p[1]).attr("x2",q[0]).attr("y2",q[1]).attr("stroke","#000").attr("stroke-width",w).attr("stroke-linecap","square");};
black([colMax,rowMin,tMin],[colMax,rowMax,tMin],6.5);
black([colMax,rowMax,tMin],[colMin,rowMax,tMin],6.5);
black([colMax,rowMin,tMin],[colMax,rowMin,tMax],6.5);
rowTicks.forEach(r=>black([colMax-.3,r,tMin],[colMax+2,r,tMin],7.5));
columnTicks.forEach(c=>black([c,rowMax-.3,tMin],[c,rowMax+2,tMin],7.5));
timeTicks.forEach(t=>black([colMax-.9,rowMin,t],[colMax+1.2,rowMin,t],7.5));
const label=(txt,x,y,rot,size)=>svg.append("text").text(txt).attr("text-anchor","middle").attr("dominant-baseline","central").attr("font-size",size).attr("transform",`translate(${x},${y})`+(rot?` rotate(${rot})`:""));
const tickSize=86,titleSize=84;
rowTicks.forEach(r=>{const p=project(colMax,r,tMin);label(r,p[0]-98-r*.23,p[1]+131+r*.17,0,tickSize);});
columnTicks.forEach(c=>{const p=project(c,rowMax,tMin);label(c,p[0]+96,p[1]+133+c*.12,0,tickSize);});
timeTicks.forEach(t=>{const p=project(colMax,rowMin,t);label(d3.format(".1f")(t),p[0]-165,p[1]+34,0,tickSize);});
label("Row",765,1640,0,titleSize);
label("Column",2369,1657,-10.5,titleSize);
label("Time (ms)",67,722,-90,titleSize);
</script>
</body></html>
